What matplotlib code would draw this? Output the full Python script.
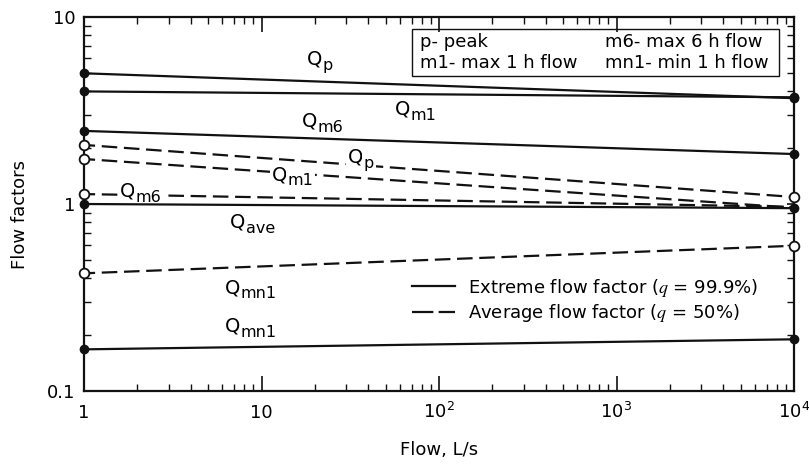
import matplotlib
matplotlib.use('Agg')
import matplotlib.pyplot as plt
from matplotlib.lines import Line2D
from matplotlib.patches import Rectangle
from matplotlib.font_manager import FontProperties
from matplotlib.ticker import NullFormatter, LogLocator
from matplotlib.transforms import offset_copy

# ---- data ----
flow = [1, 1e4]
ext_names = ['p', 'm1', 'm6', 'ave', 'mn1']
ext_start = [5.0, 4.0, 2.46, 1.0, 0.167]
ext_end = [3.68, 3.72, 1.85, 0.95, 0.189]
avg_names = ['p', 'm1', 'm6', 'mn1']
avg_start = [2.07, 1.74, 1.13, 0.426]
avg_end = [1.09, 0.955, 0.965, 0.598]
avg_end_marker = [True, False, False, True]

x_ticks = [1, 10, 100, 1000, 10000]
x_ticklabels = ['1', '10', r'10$^2$', r'10$^3$', r'10$^4$']
y_ticks = [0.1, 1, 10]
y_ticklabels = ['0.1', '1', '10']

# curve label anchors (right edge of "Q", baseline), axes fractions
ext_label_pos = [(0.335, 0.872), (0.459, 0.738), (0.328, 0.706), (0.227, 0.437), (0.220, 0.158)]
avg_label_pos = [(0.393, 0.610), (0.286, 0.564), (0.072, 0.519), (0.220, 0.262)]
avg_label_boxed = [True, True, True, False]

legend_labels = [r'Extreme flow factor ($q$ = 99.9%)', r'Average flow factor ($q$ = 50%)']
key_left = ['p- peak', 'm1- max 1 h flow']
key_right = ['m6- max 6 h flow', 'mn1- min 1 h flow']

plt.rcParams['font.family'] = ['DejaVu Sans']
FS = 13
INK = '#111111'

fig = plt.figure(figsize=(8.09, 4.66), dpi=100)
ax = fig.add_axes([84/809, 1-391/466, 710/809, 374/466])
ax.set_xscale('log')
ax.set_yscale('log')

for s, e in zip(ext_start, ext_end):
    ax.plot(flow, [s, e], color=INK, lw=1.6, solid_capstyle='butt', zorder=5)
    ax.plot(flow, [s, e], ls='none', marker='o', ms=6, mfc=INK, mec=INK,
            clip_on=False, zorder=6)

for s, e, m in zip(avg_start, avg_end, avg_end_marker):
    ax.plot(flow, [s, e], color=INK, lw=1.6, ls=(2, (7, 3)), zorder=3)
    ax.plot([flow[0]], [s], ls='none', marker='o', ms=7, mfc='white', mec=INK,
            mew=1.3, clip_on=False, zorder=7)
    if m:
        ax.plot([flow[1]], [e], ls='none', marker='o', ms=7, mfc='white', mec=INK,
                mew=1.3, clip_on=False, zorder=7)

sub_tr = offset_copy(ax.transAxes, fig=fig, x=0.5, y=-3.6, units='points')


def q_label(sub, px, py, boxed):
    bb = dict(facecolor='white', edgecolor='none', pad=1.2) if boxed else None
    z = 4 if boxed else 8
    ax.text(px, py, 'Q', transform=ax.transAxes, fontsize=14, ha='right',
            va='baseline', zorder=z, bbox=bb)
    ax.text(px, py, sub, transform=sub_tr, fontsize=11.5, ha='left',
            va='baseline', zorder=z, bbox=bb)


for name, (px, py) in zip(ext_names, ext_label_pos):
    q_label(name, px, py, False)
for name, (px, py), bx in zip(avg_names, avg_label_pos, avg_label_boxed):
    q_label(name, px, py, bx)

ax.set_xlim(1, 1e4)
ax.set_ylim(0.1, 10)
ax.set_xticks(x_ticks)
ax.set_xticklabels(x_ticklabels, fontsize=FS)
ax.set_yticks(y_ticks)
ax.set_yticklabels(y_ticklabels, fontsize=FS)
ax.xaxis.set_minor_locator(LogLocator(base=10, subs=range(2, 10)))
ax.yaxis.set_minor_locator(LogLocator(base=10, subs=range(2, 10)))
ax.xaxis.set_minor_formatter(NullFormatter())
ax.yaxis.set_minor_formatter(NullFormatter())
ax.tick_params(which='both', direction='in', top=True, right=True, color=INK)
ax.tick_params(axis='x', which='major', length=11, width=1.2, pad=19.5)
ax.tick_params(axis='y', which='major', length=5, width=1.2, pad=6)
ax.tick_params(which='minor', length=5, width=1.0)
for lab in ax.get_xticklabels():
    lab.set_va('baseline')
for sp in ax.spines.values():
    sp.set_linewidth(1.6)
    sp.set_color(INK)

ax.set_xlabel('Flow, L/s', fontsize=FS)
ax.xaxis.set_label_coords(0.5, (391-450)/374)
ax.xaxis.label.set_va('center')
ax.set_ylabel('Flow factors', fontsize=FS)
ax.yaxis.set_label_coords(-0.09, 0.473)
ax.yaxis.label.set_va('center')

# key box
ax.add_patch(Rectangle((0.462, 0.842), 0.517, 0.126, transform=ax.transAxes,
                       fill=False, lw=1.0, edgecolor=INK, zorder=9))
for t, yy in zip(key_left, [0.933, 0.877]):
    ax.text(0.473, yy, t, transform=ax.transAxes, fontsize=FS, ha='left', va='center', zorder=9)
for t, yy in zip(key_right, [0.933, 0.877]):
    ax.text(0.734, yy, t, transform=ax.transAxes, fontsize=FS, ha='left', va='center', zorder=9)

handles = [Line2D([], [], color=INK, lw=1.6),
           Line2D([], [], color=INK, lw=1.6, ls=(0, (9.6, 2.4)))]
ax.legend(handles, legend_labels, loc='center left', bbox_to_anchor=(0.462, 0.242),
          frameon=False, borderaxespad=0, borderpad=0, handlelength=2.4,
          handletextpad=0.7, labelspacing=0.2,
          prop=FontProperties(family='DejaVu Sans', size=FS, math_fontfamily='stix'))

fig.savefig('out.png', dpi=100, facecolor='white')
